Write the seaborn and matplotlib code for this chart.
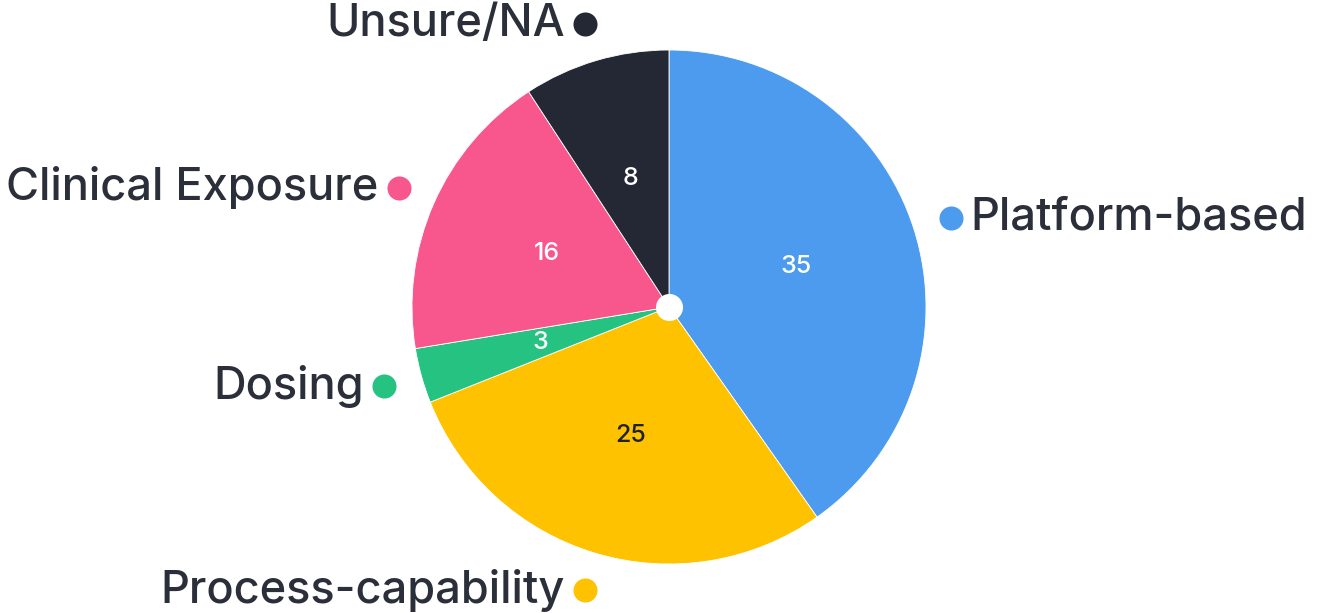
import numpy as np
import matplotlib
matplotlib.use("Agg")
import matplotlib.pyplot as plt
import seaborn as sns

categories = ["Platform-based", "Process-capability", "Dosing", "Clinical Exposure", "Unsure/NA"]
values = [35, 25, 3, 16, 8]
colors = ["#4C9BEF", "#FFC200", "#26C281", "#F7578C", "#232834"]
value_text_colors = ["white", "#1E222B", "white", "white", "white"]

sns.set_theme(style="white")
plt.rcParams["font.family"] = ["Inter", "DejaVu Sans"]

W, H = 1331, 613
fig = plt.figure(figsize=(W / 100, H / 100), dpi=100)
ax = fig.add_axes([0, 0, 1, 1])

cx, cy, R = 669, 306, 257
wedges, _ = ax.pie(values, colors=colors, startangle=90, counterclock=False,
                   radius=R, center=(cx, cy), frame=True,
                   wedgeprops=dict(edgecolor="white", linewidth=0.6))
ax.set_xlim(0, W)
ax.set_ylim(0, H)
ax.set_aspect("equal")
ax.axis("off")

text_color = "#2B2F3A"
for w, cat, val, tc, col in zip(wedges, categories, values, value_text_colors, colors):
    mid = np.deg2rad((w.theta1 + w.theta2) / 2)
    c, s = np.cos(mid), np.sin(mid)
    # inner value
    ax.text(cx + 0.52 * R * c, cy + 0.52 * R * s, str(val), ha="center", va="center",
            fontsize=18, color=tc, fontweight="medium")
    # outer dot + label
    dx, dy = cx + 1.15 * R * c, cy + 1.15 * R * s
    ax.scatter([dx], [dy], s=300, color=col, zorder=5, linewidths=0)
    if c >= 0:
        ax.text(dx + 20, dy, cat, ha="left", va="center", fontsize=32.5, color=text_color,
                fontweight="medium")
    else:
        ax.text(dx - 20, dy, cat, ha="right", va="center", fontsize=32.5, color=text_color,
                fontweight="medium")

ax.scatter([cx], [cy], s=380, color="white", zorder=6, linewidths=0)

fig.savefig("out.png", dpi=100, facecolor="white")
